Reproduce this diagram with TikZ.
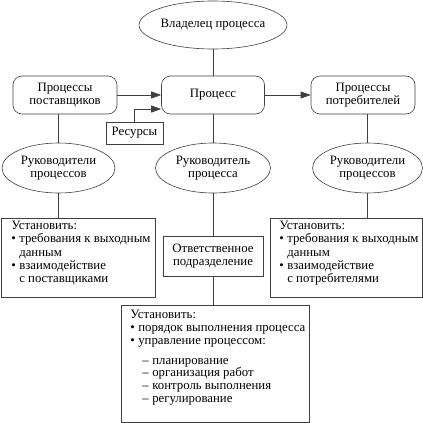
\documentclass[tikz,border=0pt]{standalone}
\usepackage{fontspec}
\setmainfont{Liberation Serif}
\usetikzlibrary{shapes.geometric,arrows.meta}
\newcommand\blt{\makebox[8pt][l]{•}}
\newcommand\ind{\hspace*{8pt}}
\newcommand\dsh{\hspace*{12pt}\makebox[10pt][l]{–}}
\begin{document}
\begin{tikzpicture}[x=1pt,y=-1pt,
  every node/.style={font=\fontsize{12.8}{13.2}\selectfont, text=black},
  ln/.style={draw=black!75, line width=0.6pt},
  rbox/.style={ln, rounded corners=9pt, minimum width=104pt, minimum height=38pt, inner sep=0pt, align=center},
  ell/.style={ln, ellipse, minimum width=114pt, minimum height=50pt, inner sep=0pt, align=center},
  sbox/.style={ln, inner sep=0pt, align=center},
  tbox/.style={ln, anchor=north west, inner sep=0pt},
  arr/.style={ln, -{Triangle[length=10pt,width=7pt]}}]
\useasboundingbox (0,0) rectangle (423,423);
\node[ell, minimum width=131pt, minimum height=48pt] (owner) at (213,25) {Владелец процесса};
\node[rbox, minimum width=103pt] (proc) at (213,95) {Процесс};
\node[rbox] (sup) at (65,95) {Процессы\\поставщиков};
\node[rbox] (cons) at (363,95) {Процессы\\потребителей};
\node[sbox, minimum width=57pt, minimum height=22pt] (res) at (134.5,133) {Ресурсы};
\node[ell, minimum width=113pt] (lmgr) at (58.5,168) {Руководители\\процессов};
\node[ell, minimum width=115pt] (mmgr) at (213,168) {Руководитель\\процесса};
\node[ell, minimum width=110pt] (rmgr) at (367.5,168) {Руководители\\процессов};
\node[sbox, minimum width=100pt, minimum height=40pt] (resp) at (213,256) {Ответственное\\подразделение};
\node[tbox] (lbox) at (1,218) {\begin{minipage}[c][79pt][t]{154pt}\vspace{3pt}\leftskip=10pt
Установить:\\
\blt требования к выходным\\
\ind данным\\
\blt взаимодействие\\
\ind с поставщиками\end{minipage}};
\node[tbox] (rbx) at (270,218) {\begin{minipage}[c][79pt][t]{152pt}\vspace{3pt}\leftskip=9pt
Установить:\\
\blt требования к выходным\\
\ind данным\\
\blt взаимодействие\\
\ind с потребителями\end{minipage}};
\node[tbox] (bbox) at (121,305) {\begin{minipage}[c][117pt][t]{188pt}\vspace{5pt}\leftskip=9pt
\fontsize{12.8}{12.8}\selectfont
Установить:\\
\blt порядок выполнения процесса\\
\blt управление процессом:\\[7pt]
\dsh планирование\\
\dsh организация работ\\
\dsh контроль выполнения\\
\dsh регулирование\end{minipage}};
\coordinate (resin) at ([yshift=-14pt]proc.west);
\draw[ln] (owner.south) -- (owner.south |- proc.north);
\draw[ln] (proc.south) -- (proc.south |- mmgr.north);
\draw[ln] (mmgr.south) -- (mmgr.south |- resp.north);
\draw[ln] (resp.south) -- (resp.south |- bbox.north);
\draw[ln] (lmgr.north |- sup.south) -- (lmgr.north);
\draw[ln] (lmgr.south) -- (lmgr.south |- lbox.north);
\draw[ln] (rmgr.north |- cons.south) -- (rmgr.north);
\draw[ln] (rmgr.south) -- (rmgr.south |- rbx.north);
\draw[arr] (sup) -- (proc);
\draw[arr] (proc) -- (cons);
\draw[arr] (res.north) |- (resin);
\end{tikzpicture}
\end{document}
